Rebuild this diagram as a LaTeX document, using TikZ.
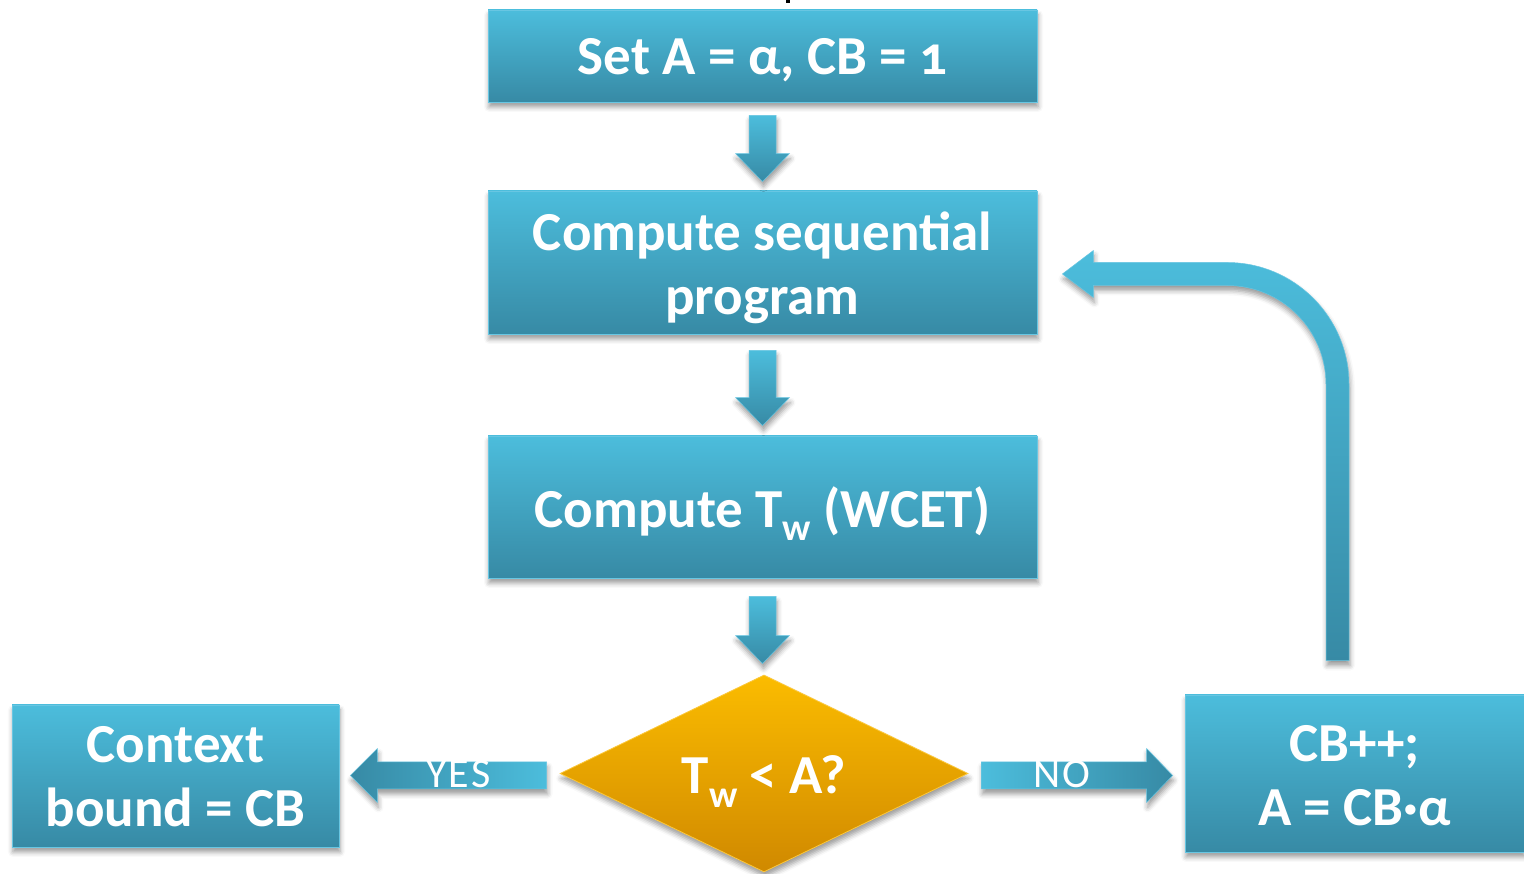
\documentclass[tikz,border=0pt]{standalone}
\usepackage{fontspec}
\setmainfont{Carlito}
\usetikzlibrary{shapes.geometric,calc,shadows.blur}

\definecolor{cyanL}{RGB}{76,189,220}
\definecolor{cyanD}{RGB}{55,138,165}
\definecolor{cyanEdge}{RGB}{104,198,226}
\definecolor{ambL}{RGB}{251,188,0}
\definecolor{ambD}{RGB}{208,137,0}
\definecolor{ambEdge}{RGB}{252,200,60}

\tikzset{
  softshadow/.style={blur shadow={shadow xshift=1pt, shadow yshift=-5pt,
      shadow blur radius=5pt, shadow opacity=40}},
  procbox/.style={rectangle, draw=cyanEdge, line width=0.8pt,
      top color=cyanL, bottom color=cyanD, text=white,
      font=\fontsize{55}{64}\selectfont\bfseries, align=center,
      inner sep=0pt, softshadow},
  decision/.style={diamond, draw=ambEdge, line width=0.8pt,
      top color=ambL, bottom color=ambD, inner sep=0pt, softshadow},
  decisiontext/.style={text=white, font=\fontsize{55}{64}\selectfont\bfseries},
  blockarrow/.style={draw=cyanEdge, line width=0.5pt, softshadow},
  arrlabel/.style={text=white, font=\fontsize{42}{42}\selectfont\addfontfeatures{LetterSpace=5}, inner sep=0pt},
}

% subscript set low, as in T_w
\newcommand\lowsub[1]{\raisebox{-0.24em}{\fontsize{38}{38}\selectfont #1}}
% lower a block of centred lines by #1 without changing its size
\newcommand\lowered[2]{\raisebox{-#1}[\height][\depth]{\begin{tabular}{@{}c@{}}#2\end{tabular}}}

% vertical block arrow: shaft top centre #1, tip #2
\newcommand\vblock[2]{%
  \path[blockarrow, top color=cyanL, bottom color=cyanD]
    let \p1=(#1), \p2=(#2) in
    (\x1-13.5pt,\y1) -- (\x1+13.5pt,\y1) -- (\x1+13.5pt,\y2+28pt)
    -- (\x1+27pt,\y2+28pt) -- (\x1,\y2) -- (\x1-27pt,\y2+28pt)
    -- (\x1-13.5pt,\y2+28pt) -- cycle;}

% horizontal block arrow: shaft end #1, tip #2, signed head length #3, shading #4
\newcommand\hblock[4]{%
  \path[blockarrow, #4]
    let \p1=(#1), \p2=(#2) in
    (\x1,\y1-13.5pt) -- (\x2+#3pt,\y1-13.5pt) -- (\x2+#3pt,\y1-27pt)
    -- (\x2,\y1) -- (\x2+#3pt,\y1+27pt) -- (\x2+#3pt,\y1+13.5pt)
    -- (\x1,\y1+13.5pt) -- cycle;}

\begin{document}
\begin{tikzpicture}[x=1pt,y=1pt]
\useasboundingbox (0,0) rectangle (1524,874);

% clipped mark at the top edge
\fill[black] (786,871) rectangle (790,874);

% process boxes
\node[procbox, minimum width=549pt, minimum height=92pt] (b1) at (762.5,818)
  {\lowered{6pt}{Set A = α, CB = {\addfontfeatures{Numbers=OldStyle}1}}};
\node[procbox, minimum width=549pt, minimum height=143pt] (b2) at (762.5,611.5)
  {\lowered{7pt}{Compute sequential\\program}};
\node[procbox, minimum width=549pt, minimum height=142pt] (b3) at (762.5,367)
  {\lowered{8pt}{Compute T\lowsub{w} (WCET)}};
\node[decision, minimum width=408pt, minimum height=197pt] (dec) at (764,100.5) {};
\node[decisiontext] (dect) at ($(dec.center)+(0,-8)$) {T\lowsub{w} < A?};
\node[procbox, minimum width=327pt, minimum height=142pt] (b4) at (175.5,98)
  {\lowered{6pt}{Context\\bound = CB}};
\node[procbox, minimum width=339pt, minimum height=157pt] (b5) at (1354.5,100.5)
  {\lowered{7.5pt}{CB++;\\A = CB·α}};

% downward block arrows
\vblock{$(b1.south)+(0,-13)$}{$(b2.north)+(0,9)$}
\vblock{$(b2.south)+(0,-16)$}{$(b3.north)+(0,10)$}
\vblock{$(b3.south)+(0,-18)$}{$(dec.north)+(0,11)$}

% YES and NO block arrows
\coordinate (yesS) at ($(dec.west)+(-13,-2)$);
\coordinate (yesT) at ($(b4.east)+(11,0.5)$);
\hblock{yesS}{yesT}{27}{left color=cyanD, right color=cyanL}
\node[arrlabel] (yes) at ($(yesS)!0.45!(yesT)+(0,1)$) {YES};

\coordinate (noS) at ($(dec.east)+(13,-2)$);
\coordinate (noT) at ($(b5.west)+(-12,-2)$);
\hblock{noS}{noT}{-26}{left color=cyanL, right color=cyanD}
\node[arrlabel] (no) at ($(noS)!0.42!(noT)+(0,1)$) {NO};

% loop-back arrow from the update box to the program box
\coordinate (loopS) at ($(b5.north)+(-17,34)$);
\coordinate (loopT) at ($(b2.east)+(25,-11.5)$);
\path[blockarrow, top color=cyanL, bottom color=cyanD]
  let \p1=(loopS), \p2=(loopT) in
  (\x1-11.5pt,\y1) -- (\x1+11.5pt,\y1) -- (\x1+11.5pt,\y2-110.5pt)
  arc[start angle=0, end angle=90, radius=122pt]
  -- (\x2+31pt,\y2+11.5pt) -- (\x2+31pt,\y2+23.5pt) -- (\x2,\y2)
  -- (\x2+31pt,\y2-23.5pt) -- (\x2+31pt,\y2-11.5pt)
  -- (\x1-110.5pt,\y2-11.5pt)
  arc[start angle=90, end angle=0, radius=99pt]
  -- cycle;
\end{tikzpicture}
\end{document}
